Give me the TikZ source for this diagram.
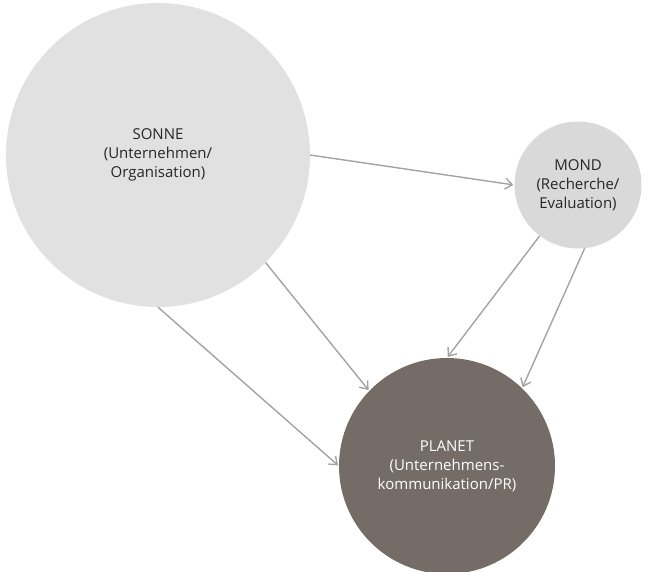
\documentclass[tikz,border=0pt]{standalone}
\usepackage{fontspec}
\setmainfont{Open Sans}
\usetikzlibrary{arrows.meta}
\definecolor{sonnec}{HTML}{E1E1E1}
\definecolor{mondc}{HTML}{D9D9D9}
\definecolor{planetc}{HTML}{756B67}
\definecolor{arrc}{HTML}{A3A3A3}
\tikzset{
 body/.style={circle,inner sep=0pt,align=center,font=\fontsize{15}{19}\selectfont},
 link/.style={draw=arrc,line width=1.4pt,-{Straight Barb[length=7pt,width=11pt]},shorten >=1pt}
}
\begin{document}
\begin{tikzpicture}[x=1pt,y=-1pt]
\useasboundingbox (0,0) rectangle (667,571);
\node[body,fill=sonnec,minimum size=304pt,text=black!85] (sonne) at (158,155) {SONNE\\(Unternehmen/\\Organisation)};
\node[body,fill=mondc,minimum size=127pt,text=black!85] (mond) at (578,185) {MOND\\(Recherche/\\Evaluation)};
\node[body,fill=planetc,minimum size=216pt,text=white] (planet) at (447,466) {PLANET\\(Unternehmens-\\kommunikation/PR)};
\draw[link] (sonne.0) -- (mond.180);
\draw[link] (sonne.-45) -- (planet.136);
\draw[link] (sonne.-90) -- (planet.180);
\draw[link] (mond.-127) -- (planet.90);
\draw[link] (mond.-84) -- (planet.46);
\end{tikzpicture}
\end{document}
